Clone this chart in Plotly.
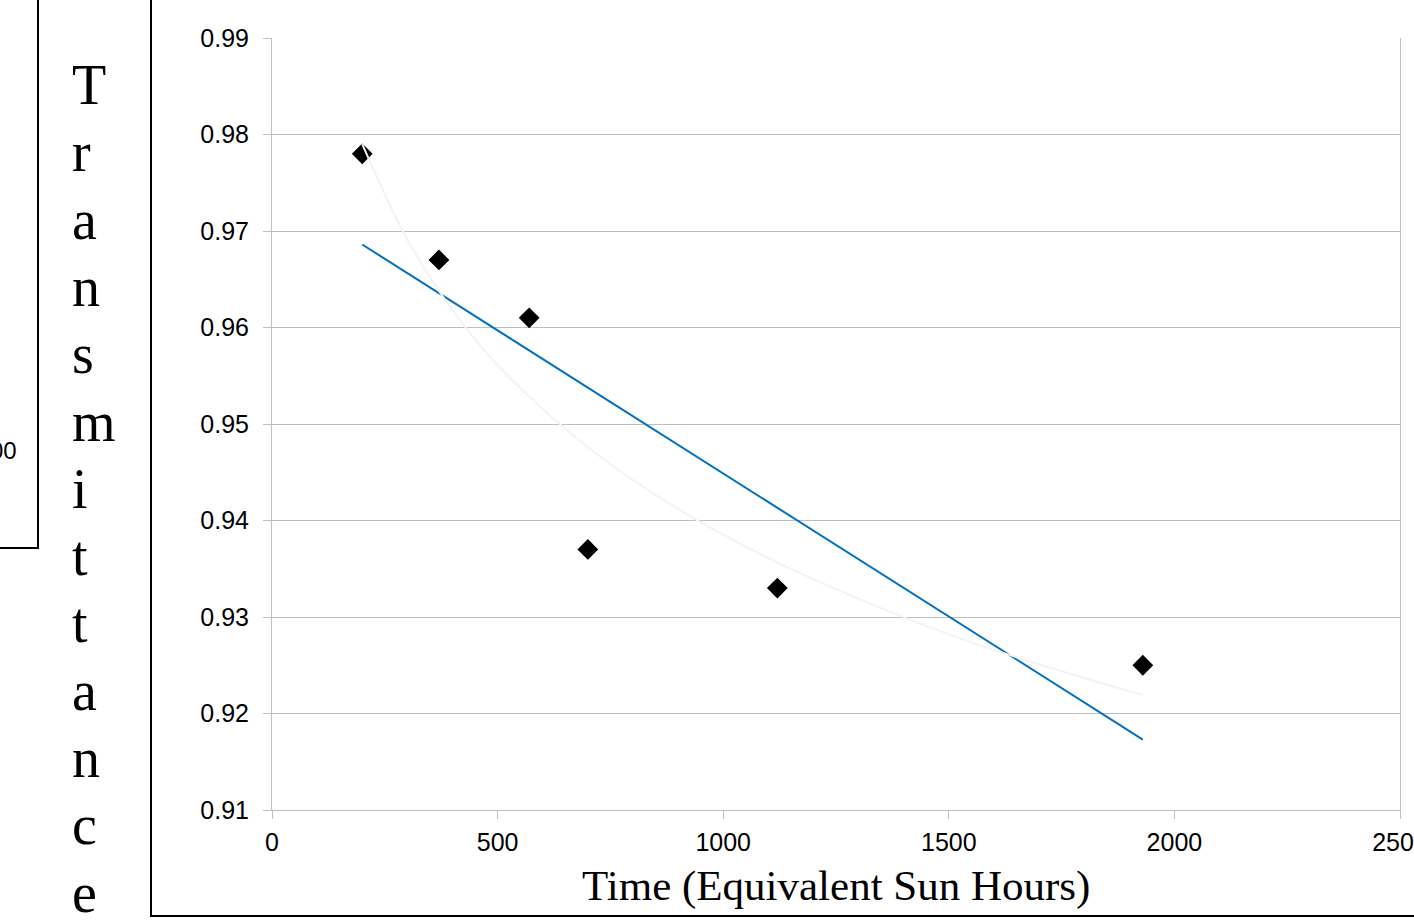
import plotly.graph_objects as go

# ---- data ----
time_hours = [200, 370, 570, 700, 1120, 1930]
transmittance = [0.978, 0.967, 0.961, 0.937, 0.933, 0.925]

linear_trend_x = [200, 1930]
linear_trend_y = [0.9686, 0.9173]

log_trend_x = [200, 300, 400, 500, 700, 900, 1100, 1300, 1500, 1700, 1930]
log_trend_y = [0.9790, 0.9691, 0.9618, 0.9561, 0.9476, 0.9412, 0.9361, 0.9319, 0.9282, 0.9251, 0.9219]

x_ticks = [0, 500, 1000, 1500, 2000, 2500]
y_ticks = [0.91, 0.92, 0.93, 0.94, 0.95, 0.96, 0.97, 0.98, 0.99]

y_title = "Transmittance"
x_title = "Time (Equivalent Sun Hours)"
stray_label = "00"

# ---- layout geometry (pixels) ----
W, H = 1414, 923
L, R, T, B = 272, 14, 38, 113
PW = W - L - R
PH = H - T - B


def px(xpix):
    return (xpix - L) / PW


def py(ypix):
    return (H - B - ypix) / PH


SERIF = "Liberation Serif, Times New Roman, serif"
SANS = "Liberation Sans, Arial, sans-serif"

fig = go.Figure()
fig.add_trace(go.Scatter(
    x=time_hours, y=transmittance, mode="markers",
    marker=dict(symbol="diamond", size=16, color="black", line=dict(width=0)),
    showlegend=False, hoverinfo="skip"))
fig.add_trace(go.Scatter(
    x=linear_trend_x, y=linear_trend_y, mode="lines",
    line=dict(color="#0070C0", width=2), showlegend=False, hoverinfo="skip"))
fig.add_trace(go.Scatter(
    x=log_trend_x, y=log_trend_y, mode="lines", line_shape="spline",
    line=dict(color="#f3f3f3", width=2), showlegend=False, hoverinfo="skip"))

annotations = []
# vertical stacked y-axis title letters
for i, ch in enumerate(y_title):
    baseline = 104 + 67.3 * i
    annotations.append(dict(
        text=ch, xref="paper", yref="paper",
        x=px(70), y=py(baseline - 19), xanchor="left", yanchor="middle",
        showarrow=False, font=dict(family=SERIF, size=56, color="black")))
# x title
annotations.append(dict(
    text=x_title, xref="paper", yref="paper", x=0.5, y=py(901 - 14.5),
    xanchor="center", yanchor="middle", showarrow=False,
    font=dict(family=SERIF, size=43, color="black")))
# stray cut-off label from neighbouring chart
annotations.append(dict(
    text=stray_label, xref="paper", yref="paper", x=px(19), y=py(450),
    xanchor="right", yanchor="middle", showarrow=False,
    font=dict(family=SANS, size=24, color="black")))

shapes = [
    # outer chart border
    dict(type="rect", xref="paper", yref="paper",
         x0=px(151), x1=px(1440), y0=py(916), y1=py(-20),
         line=dict(color="black", width=2), fillcolor="rgba(0,0,0,0)", layer="above"),
    # neighbouring chart border (cut off)
    dict(type="rect", xref="paper", yref="paper",
         x0=px(-30), x1=px(38), y0=py(548), y1=py(-20),
         line=dict(color="black", width=2), fillcolor="rgba(0,0,0,0)", layer="above"),
]

fig.update_layout(
    width=W, height=H,
    margin=dict(l=L, r=R, t=T, b=B, autoexpand=False),
    paper_bgcolor="white", plot_bgcolor="white",
    showlegend=False,
    annotations=annotations, shapes=shapes,
    xaxis=dict(
        range=[0, 2500], tickvals=x_ticks, ticktext=[str(v) for v in x_ticks],
        showgrid=False, zeroline=False,
        showline=True, linecolor="#bfbfbf", linewidth=1,
        ticks="outside", ticklen=8, tickcolor="#bfbfbf", tickwidth=1,
        ticklabelstandoff=2, ticklabeloverflow="allow",
        tickfont=dict(family=SANS, size=25, color="black"), fixedrange=True),
    yaxis=dict(
        range=[0.91, 0.99], tickvals=y_ticks, ticktext=[f"{v:.2f}" for v in y_ticks],
        showgrid=True, gridcolor="#bfbfbf", gridwidth=1, zeroline=False,
        showline=True, linecolor="#bfbfbf", linewidth=1, mirror=True,
        ticks="outside", ticklen=8, tickcolor="#bfbfbf", tickwidth=1,
        ticklabelstandoff=9, ticklabeloverflow="allow",
        tickfont=dict(family=SANS, size=25, color="black"), fixedrange=True),
)

fig.write_html(
    "out.html",
    config={"displayModeBar": False},
    post_script="document.body.style.margin='0px';document.body.style.overflow='hidden';",
)
